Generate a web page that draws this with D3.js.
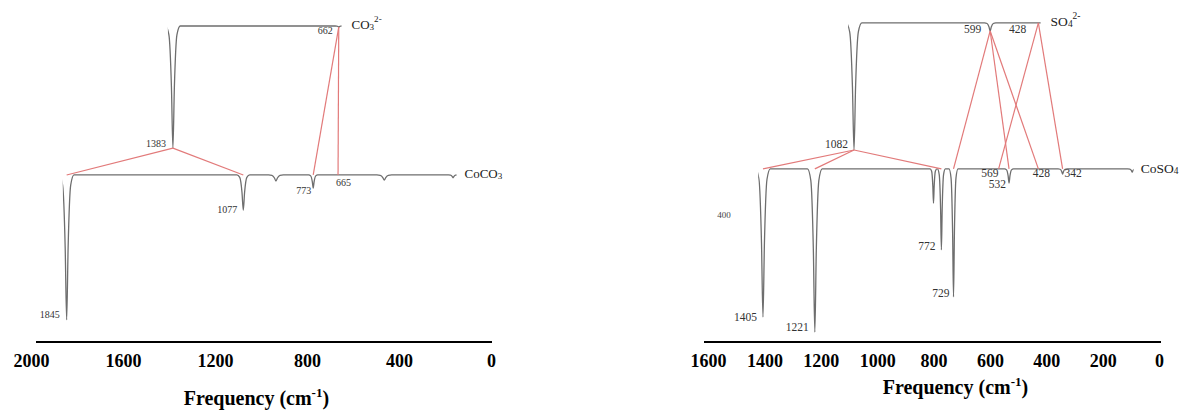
<!DOCTYPE html>
<html>
<head>
<meta charset="utf-8">
<script src="https://cdn.jsdelivr.net/npm/d3@7"></script>
<title>IR spectra</title>
<style>
  body { margin: 0; background: #fff; }
  text { font-family: "Liberation Serif", "Times New Roman", serif; }
</style>
</head>
<body>
<svg width="1187" height="411" id="mainsvg"></svg>
<script>
// ---- data (wavenumber in cm-1, intensity in arbitrary units 0..100) ----
// peaks: [wavenumber, minimum, half width]
const coTicks = [2000, 1600, 1200, 800, 400, 0];
const co3Base = 98.75, co3Range = [1405, 650];
const co3Peaks = [[1383, 60.6, 16], [662, 98.4, 8]];
const cocoBase = 52.2, cocoRange = [1862, 150];
const cocoPeaks = [[1845, 6.9, 16], [1077, 41.2, 14], [935, 50.3, 16], [773, 48.1, 10], [464, 50.6, 16], [165, 51.3, 10]];
const coLinks = [[1383, 1845], [1383, 1077], [662, 773], [662, 665]];
const co3Labels = [1383, 662];
const cocoLabels = [1845, 1077, 773, 665];

const soTicks = [1600, 1400, 1200, 1000, 800, 600, 400, 200, 0];
const so4Base = 99.7, so4Range = [1103, 420];
const so4Peaks = [[1082, 60, 14], [599, 97.2, 10]];
const cosoBase = 54.1, cosoRange = [1422, 90];
const cosoPeaks = [[1405, 7.8, 13], [1221, 3.1, 13], [800, 43.4, 6], [772, 28.8, 7], [729, 14.1, 8], [532, 49.7, 8], [342, 52.5, 8], [95, 53.1, 8]];
const soLinks = [[1082, 1405], [1082, 1221], [1082, 772], [599, 729], [599, 532], [599, 428], [428, 569], [428, 342]];
const so4Labels = [1082, 599, 428];
const cosoLabels = [1405, 1221, 772, 729, 569, 532, 428, 342];

// ---- drawing ----
const svg = d3.select('#mainsvg');
const axisY = 342;
const y = d3.scaleLinear().domain([0, 100]).range([axisY, 22]);
const xL = d3.scaleLinear().domain([2000, 0]).range([31, 491]);
const xR = d3.scaleLinear().domain([1600, 0]).range([708, 1159]);

function specPoints(spec) {
  const b = spec.base;
  let pts = [[spec.range[0] + 60, b], [spec.range[1] - 60, b]];
  spec.peaks.forEach(([wn, min, w]) => {
    const d = b - min;
    pts.push([wn + 2 * w, b], [wn + 1.1 * w, b - 0.07 * d], [wn + 0.4 * w, b - 0.5 * d], [wn, min],
             [wn - 0.4 * w, b - 0.5 * d], [wn - 1.1 * w, b - 0.07 * d], [wn - 2 * w, b]);
  });
  return pts.sort((a, c) => c[0] - a[0]);
}

function valueAt(spec, wn) {
  const p = spec.peaks.find(d => d[0] === wn);
  return p ? p[1] : spec.base;
}

function drawPanel(p) {
  const g = svg.append('g');
  const x = p.x;
  const line = d3.line().x(d => x(d[0])).y(d => y(d[1])).curve(d3.curveMonotoneX);

  [p.top, p.bottom].forEach((spec, i) => {
    const id = p.id + i;
    svg.append('clipPath').attr('id', id).append('rect')
      .attr('x', x(spec.range[0])).attr('y', 0)
      .attr('width', x(spec.range[1]) - x(spec.range[0])).attr('height', axisY);
    g.append('path').datum(specPoints(spec))
      .attr('d', line)
      .attr('fill', 'none')
      .attr('stroke', '#6e6e6e')
      .attr('stroke-width', 1.3)
      .attr('clip-path', `url(#${id})`);

    // species name
    const nm = g.append('text')
      .attr('x', x(spec.range[1]) + spec.nameDx)
      .attr('y', y(spec.base) + spec.nameDy)
      .attr('font-size', p.nameSize).attr('fill', '#222');
    spec.name.forEach(([t, kind]) => {
      const ts = nm.append('tspan').text(t);
      if (kind === 'sub') ts.attr('font-size', p.nameSize * 0.7).attr('dy', 1);
      if (kind === 'sup') ts.attr('font-size', p.nameSize * 0.7).attr('dy', -8);
    });
  });

  g.selectAll('.link').data(p.links).join('line')
    .attr('class', 'link')
    .attr('x1', d => x(d[0])).attr('y1', d => y(valueAt(p.top, d[0])))
    .attr('x2', d => x(d[1])).attr('y2', d => y(p.bottom.base))
    .attr('stroke', '#e27a7a').attr('stroke-width', 1.2);

  [['top', p.top, p.topLabels], ['bottom', p.bottom, p.bottomLabels]].forEach(([pos, spec, labels]) => {
    g.selectAll('.lab-' + pos).data(labels).join('text')
      .attr('class', 'lab-' + pos)
      .attr('x', d => x(d) + p.place[pos][d][1])
      .attr('y', d => y(valueAt(spec, d)) + p.place[pos][d][2])
      .attr('text-anchor', d => p.place[pos][d][0])
      .attr('font-size', p.labelSize)
      .attr('fill', '#333')
      .text(d => d);
  });

  const ax = g.append('g').attr('transform', `translate(0,${axisY})`)
    .call(d3.axisBottom(x).tickValues(p.ticks).tickSize(0).tickPadding(12).tickFormat(d3.format('d')));
  ax.select('.domain').remove();
  ax.selectAll('text')
    .attr('font-size', 18).attr('font-weight', 'bold')
    .attr('font-family', '"Liberation Serif", serif').attr('fill', '#000');
  g.append('line')
    .attr('x1', x.range()[0] + p.lineExt[0]).attr('x2', x.range()[1] + p.lineExt[1])
    .attr('y1', axisY).attr('y2', axisY)
    .attr('stroke', '#000').attr('stroke-width', 2);

  const title = g.append('text')
    .attr('x', p.titleX).attr('y', p.titleY)
    .attr('text-anchor', 'middle')
    .attr('font-size', 20).attr('font-weight', 'bold').attr('fill', '#000');
  title.append('tspan').text('Frequency (cm');
  title.append('tspan').text('-1').attr('font-size', 13).attr('dy', -8);
  title.append('tspan').text(')').attr('dy', 8);
  return g;
}

drawPanel({
  id: 'clipL', x: xL, ticks: coTicks, lineExt: [5, 1],
  titleX: xL(1020), titleY: 405, labelSize: 10, nameSize: 13,
  top: { base: co3Base, range: co3Range, peaks: co3Peaks, name: [['CO', ''], ['3', 'sub'], ['2-', 'sup']], nameDx: 10, nameDy: 3 },
  bottom: { base: cocoBase, range: cocoRange, peaks: cocoPeaks, name: [['CoCO', ''], ['3', 'sub']], nameDx: 8, nameDy: 3 },
  links: coLinks, topLabels: co3Labels, bottomLabels: cocoLabels,
  place: {
    top: { 1383: ['end', -7, -1], 662: ['end', -6, 7] },
    bottom: { 1845: ['end', -7, -2], 1077: ['end', -6, 3], 773: ['end', -2, 6], 665: ['start', -2, 11] }
  }
});

const right = drawPanel({
  id: 'clipR', x: xR, ticks: soTicks, lineExt: [-4, 2],
  titleX: xR(722), titleY: 394, labelSize: 11.5, nameSize: 13.5,
  top: { base: so4Base, range: so4Range, peaks: so4Peaks, name: [['SO', ''], ['4', 'sub'], ['2-', 'sup']], nameDx: 10, nameDy: 3 },
  bottom: { base: cosoBase, range: cosoRange, peaks: cosoPeaks, name: [['CoSO', ''], ['4', 'sub']], nameDx: 7, nameDy: 4 },
  links: soLinks, topLabels: so4Labels, bottomLabels: cosoLabels,
  place: {
    top: { 1082: ['end', -6, -2], 599: ['end', -9, 2], 428: ['end', -12, 10] },
    bottom: { 1405: ['end', -6, 4], 1221: ['end', -6, -1], 772: ['end', -6, 0], 729: ['end', -4, 0],
              569: ['end', 0, 8], 532: ['end', -3, 5], 428: ['middle', 3, 8], 342: ['start', 2, 3] }
  }
});

// stray "400" label printed in the original figure
right.append('text')
  .attr('x', xR(1543)).attr('y', y(38.75))
  .attr('text-anchor', 'middle').attr('font-size', 9).attr('fill', '#444')
  .text('400');
</script>
</body>
</html>
